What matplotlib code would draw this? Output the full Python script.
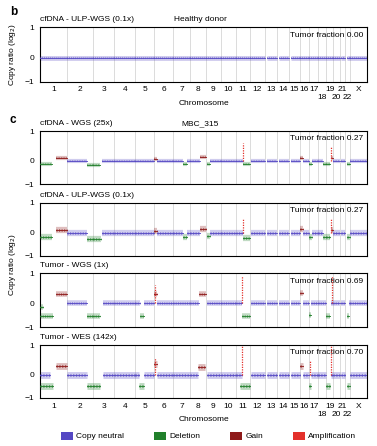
import numpy as np
import matplotlib
matplotlib.use('Agg')
import matplotlib.pyplot as plt
from matplotlib.patches import Patch
from matplotlib.transforms import blended_transform_factory

plt.rcParams['font.family'] = ['Liberation Sans', 'DejaVu Sans']
plt.rcParams['font.size'] = 6

# chromosome layout (Mb)
chroms = ['1', '2', '3', '4', '5', '6', '7', '8', '9', '10', '11', '12', '13', '14',
          '15', '16', '17', '18', '19', '20', '21', '22', 'X']
chrom_len = [249, 243, 198, 191, 181, 171, 159, 146, 141, 136, 135, 134, 115, 107,
             103, 90, 81, 78, 59, 63, 48, 51, 155]
second_row = ['18', '20', '22']

# healthy donor: everything copy neutral, first covered Mb per chromosome
healthy_start = [0, 0, 0, 0, 0, 0, 0, 0, 0, 0, 0, 0, 19, 19, 20, 0, 0, 0, 0, 0, 15, 16, 0]

# segments: (chrom, start Mb, end Mb, log2 ratio, state)
wgs25_segs = [
    ('1', 0, 110, -0.15, 'D'), ('1', 150, 249, 0.08, 'G'),
    ('2', 0, 190, 0.0, 'N'), ('2', 190, 243, -0.17, 'D'),
    ('3', 0, 65, -0.17, 'D'), ('3', 85, 198, 0.0, 'N'),
    ('4', 0, 191, 0.0, 'N'), ('5', 0, 181, 0.0, 'N'),
    ('6', 0, 20, 0.06, 'G'), ('6', 20, 171, 0.0, 'N'),
    ('7', 0, 95, 0.0, 'N'), ('7', 95, 135, -0.15, 'D'), ('7', 135, 159, 0.0, 'N'),
    ('8', 0, 90, 0.0, 'N'), ('8', 90, 146, 0.12, 'G'),
    ('9', 10, 35, -0.15, 'D'), ('9', 40, 141, 0.0, 'N'),
    ('10', 0, 136, 0.0, 'N'),
    ('11', 0, 65, 0.0, 'N'), ('11', 70, 135, -0.15, 'D'),
    ('12', 5, 134, 0.0, 'N'), ('13', 19, 115, 0.0, 'N'), ('14', 19, 107, 0.0, 'N'),
    ('15', 20, 103, 0.0, 'N'),
    ('16', 0, 28, 0.1, 'G'), ('16', 28, 90, 0.0, 'N'),
    ('17', 0, 25, -0.15, 'D'), ('17', 25, 81, 0.0, 'N'),
    ('18', 0, 50, 0.0, 'N'), ('18', 50, 78, -0.15, 'D'),
    ('19', 0, 30, -0.15, 'D'), ('19', 40, 59, 0.08, 'G'),
    ('20', 0, 63, 0.0, 'N'), ('21', 15, 48, 0.0, 'N'),
    ('22', 16, 51, -0.15, 'D'), ('X', 0, 155, 0.0, 'N'),
]
wgs25_amp = [('11', 68, 0.6), ('19', 45, 0.5)]

ulp_segs = [
    ('1', 0, 115, -0.2, 'D'), ('1', 150, 249, 0.1, 'G'),
    ('2', 0, 190, 0.0, 'N'), ('2', 190, 243, -0.25, 'D'),
    ('3', 0, 70, -0.25, 'D'), ('3', 85, 198, 0.0, 'N'),
    ('4', 0, 191, 0.0, 'N'), ('5', 0, 181, 0.0, 'N'),
    ('6', 0, 20, 0.07, 'G'), ('6', 20, 171, 0.0, 'N'),
    ('7', 0, 95, 0.0, 'N'), ('7', 95, 135, -0.18, 'D'), ('7', 135, 159, 0.0, 'N'),
    ('8', 0, 90, 0.0, 'N'), ('8', 90, 146, 0.13, 'G'),
    ('9', 10, 35, -0.15, 'D'), ('9', 40, 141, 0.0, 'N'),
    ('10', 0, 136, 0.0, 'N'),
    ('11', 0, 65, 0.0, 'N'), ('11', 70, 135, -0.22, 'D'),
    ('12', 5, 134, 0.0, 'N'), ('13', 19, 115, 0.0, 'N'), ('14', 19, 107, 0.0, 'N'),
    ('15', 20, 103, 0.0, 'N'),
    ('16', 0, 28, 0.12, 'G'), ('16', 28, 90, 0.0, 'N'),
    ('17', 0, 25, -0.18, 'D'), ('17', 25, 81, 0.0, 'N'),
    ('18', 0, 50, 0.0, 'N'), ('18', 50, 78, -0.18, 'D'),
    ('19', 0, 30, -0.18, 'D'), ('19', 40, 59, 0.1, 'G'),
    ('20', 0, 63, 0.0, 'N'), ('21', 15, 48, 0.0, 'N'),
    ('22', 16, 51, -0.18, 'D'), ('X', 0, 155, 0.0, 'N'),
]
ulp_amp = [('11', 68, 0.45), ('19', 45, 0.45)]

tumor_wgs_segs = [
    ('1', 0, 30, -0.15, 'D'), ('1', 0, 120, -0.55, 'D'), ('1', 150, 249, 0.32, 'G'),
    ('2', 0, 190, 0.0, 'N'), ('2', 190, 243, -0.55, 'D'),
    ('3', 0, 65, -0.55, 'D'), ('3', 90, 198, 0.0, 'N'),
    ('4', 0, 191, 0.0, 'N'),
    ('5', 0, 45, 0.0, 'N'), ('5', 50, 83, -0.55, 'D'), ('5', 83, 181, 0.0, 'N'),
    ('6', 0, 20, 0.3, 'G'), ('6', 20, 171, 0.0, 'N'),
    ('7', 0, 159, 0.0, 'N'),
    ('8', 0, 80, 0.0, 'N'), ('8', 80, 146, 0.3, 'G'),
    ('9', 15, 141, 0.0, 'N'), ('10', 0, 136, 0.0, 'N'),
    ('11', 0, 60, 0.0, 'N'), ('11', 60, 135, -0.55, 'D'),
    ('12', 5, 134, 0.0, 'N'), ('13', 19, 115, 0.0, 'N'), ('14', 19, 107, 0.0, 'N'),
    ('15', 20, 103, 0.0, 'N'),
    ('16', 0, 30, 0.35, 'G'), ('16', 30, 90, 0.0, 'N'),
    ('17', 0, 20, -0.5, 'D'), ('17', 20, 81, 0.0, 'N'),
    ('18', 0, 78, 0.0, 'N'),
    ('19', 0, 35, -0.55, 'D'), ('19', 40, 59, 0.0, 'N'),
    ('20', 0, 63, 0.0, 'N'), ('21', 15, 48, 0.0, 'N'),
    ('22', 16, 22, 0.0, 'N'), ('22', 22, 40, -0.55, 'D'), ('22', 40, 51, 0.0, 'N'),
    ('X', 0, 155, 0.0, 'N'),
]
tumor_wgs_amp = [('6', 6, 0.6), ('11', 62, 0.9), ('19', 48, 0.9)]

wes_segs = [
    ('1', 0, 93, 0.0, 'N'), ('1', 0, 120, -0.5, 'D'), ('1', 148, 249, 0.3, 'G'),
    ('2', 2, 190, 0.0, 'N'), ('2', 190, 243, -0.5, 'D'),
    ('3', 0, 65, -0.5, 'D'), ('3', 93, 198, 0.0, 'N'),
    ('4', 0, 191, 0.0, 'N'),
    ('5', 0, 37, 0.0, 'N'), ('5', 37, 83, -0.5, 'D'), ('5', 83, 181, 0.0, 'N'),
    ('6', 0, 23, 0.35, 'G'), ('6', 23, 171, 0.0, 'N'),
    ('7', 0, 159, 0.0, 'N'),
    ('8', 0, 74, 0.0, 'N'), ('8', 74, 142, 0.25, 'G'),
    ('9', 12, 141, 0.0, 'N'), ('10', 0, 136, 0.0, 'N'),
    ('11', 0, 57, 0.0, 'N'), ('11', 45, 134, -0.5, 'D'),
    ('12', 5, 134, 0.0, 'N'), ('13', 19, 115, 0.0, 'N'), ('14', 19, 107, 0.0, 'N'),
    ('15', 20, 103, 0.0, 'N'),
    ('16', 0, 27, 0.3, 'G'), ('16', 27, 90, 0.0, 'N'),
    ('17', 0, 16, -0.5, 'D'), ('17', 16, 81, 0.0, 'N'),
    ('18', 0, 78, 0.0, 'N'),
    ('19', 0, 35, -0.5, 'D'), ('19', 40, 59, 0.0, 'N'),
    ('20', 0, 63, 0.0, 'N'), ('21', 15, 48, 0.0, 'N'),
    ('22', 16, 25, 0.0, 'N'), ('22', 25, 51, -0.5, 'D'),
    ('X', 0, 155, 0.0, 'N'),
]
wes_amp = [('6', 9, 0.55), ('11', 57, 1.0), ('17', 8, 0.45), ('19', 45, 1.0)]

titles = ['cfDNA - WGS (25x)', 'cfDNA - ULP-WGS (0.1x)', 'Tumor - WGS (1x)', 'Tumor - WES (142x)']
tumor_fraction = ['0.27', '0.27', '0.69', '0.70']

colors = {'N': '#5548c4', 'D': '#21802b', 'G': '#8e1a1a', 'A': '#e3302b'}
legend_names = ['Copy neutral', 'Deletion', 'Gain', 'Amplification']

offs = np.concatenate([[0], np.cumsum(chrom_len)[:-1]])
total = sum(chrom_len)
cidx = {c: i for i, c in enumerate(chroms)}


def fwd(y):
    y = np.asarray(y, dtype=float)
    return np.where(y < 0, y * 0.78, y)


def inv(y):
    y = np.asarray(y, dtype=float)
    return np.where(y < 0, y / 0.78, y)


def setup(ax, title, tf):
    ax.set_yscale('function', functions=(fwd, inv))
    ax.set_xlim(0, total)
    ax.set_ylim(-1, 1)
    ax.set_yticks([-1, 0, 1])
    ax.set_yticklabels(['\u22121', '0', '1'])
    ax.set_xticks([])
    ax.tick_params(length=0, pad=4, labelsize=6)
    for b in offs[1:]:
        ax.axvline(b, color='#d6d6d6', lw=0.6, zorder=0)
    for s in ax.spines.values():
        s.set_linewidth(0.8)
    ax.annotate(title, (0, 1), xycoords='axes fraction', xytext=(0, 3),
                textcoords='offset points', ha='left', va='bottom', fontsize=6)
    ax.text(0.988, 0.85, 'Tumor fraction ' + tf, transform=ax.transAxes,
            ha='right', va='center', fontsize=6)


def draw(ax, segs, amps, spread):
    for c, s, e, v, st in segs:
        x0 = offs[cidx[c]] + s
        x1 = offs[cidx[c]] + e
        # soft band for the scatter of bins, thin core for the segment level
        ax.plot([x0, x1], [v, v], color=colors[st], lw=spread, alpha=0.28,
                solid_capstyle='butt', zorder=2)
        ax.plot([x0, x1], [v, v], color=colors[st], lw=spread * 0.45,
                ls=(0, (0.4, 0.5)), alpha=0.55, zorder=3)
        ax.plot([x0, x1], [v, v], color=colors[st], lw=0.7, alpha=0.9, zorder=3)
    for c, p, top in amps:
        x = offs[cidx[c]] + p
        ax.vlines(x, 0, top, color=colors['A'], lw=0.9, linestyles=(0, (1, 1)), zorder=4)


def chrom_labels(ax, ybase, y2, yname):
    tr = blended_transform_factory(ax.transData, ax.transAxes)
    for i, c in enumerate(chroms):
        y = y2 if c in second_row else ybase
        ax.text(offs[i] + chrom_len[i] / 2, y, c, transform=tr, ha='center',
                va='center', fontsize=6, clip_on=False)
    ax.text(0.5, yname, 'Chromosome', transform=ax.transAxes, ha='center',
            va='center', fontsize=6)


W, H = 377, 446
fig = plt.figure(figsize=(W / 100, H / 100), dpi=100)
left = 40 / W
width = 327 / W


def add_axes(top, bottom):
    return fig.add_axes([left, 1 - bottom / H, width, (bottom - top) / H])


# panel b
axb = add_axes(27.5, 81.7)
setup(axb, 'cfDNA - ULP-WGS (0.1x)', '0.00')
healthy = [(c, healthy_start[i], chrom_len[i], 0.0, 'N') for i, c in enumerate(chroms)]
draw(axb, healthy, [], 3.5)
axb.annotate('Healthy donor', (0.49, 1), xycoords='axes fraction', xytext=(0, 3),
             textcoords='offset points', ha='center', va='bottom', fontsize=6)
chrom_labels(axb, -0.14, -0.30, -0.40)

# panel c
tops = [131, 203, 273, 345]
bottoms = [184, 256, 327, 398]
all_segs = [wgs25_segs, ulp_segs, tumor_wgs_segs, wes_segs]
all_amps = [wgs25_amp, ulp_amp, tumor_wgs_amp, wes_amp]
spreads = [3.0, 4.5, 4.0, 5.0]
axes_c = []
for k in range(4):
    ax = add_axes(tops[k], bottoms[k])
    setup(ax, titles[k], tumor_fraction[k])
    draw(ax, all_segs[k], all_amps[k], spreads[k])
    axes_c.append(ax)
axes_c[0].annotate('MBC_315', (0.49, 1), xycoords='axes fraction', xytext=(0, 3),
                   textcoords='offset points', ha='center', va='bottom', fontsize=6)
chrom_labels(axes_c[3], -0.165, -0.32, -0.415)

fig.text(10 / W, 1 - 12 / H, 'b', fontsize=8.5, fontweight='bold', ha='left', va='center')
fig.text(10 / W, 1 - 120 / H, 'c', fontsize=8.5, fontweight='bold', ha='left', va='center')
fig.text(12 / W, 1 - 55 / H, 'Copy ratio (log$_2$)', rotation=90, ha='center', va='center', fontsize=6)
fig.text(12 / W, 1 - 265 / H, 'Copy ratio (log$_2$)', rotation=90, ha='center', va='center', fontsize=6)

handles = [Patch(facecolor=colors[s], edgecolor='none') for s in ['N', 'D', 'G', 'A']]
fig.legend(handles, legend_names, loc='center', bbox_to_anchor=(0.554, 1 - 436 / H),
           ncol=4, frameon=False, handlelength=1.4, handleheight=1.1,
           columnspacing=3.6, handletextpad=0.4, fontsize=6)

fig.savefig('out.png', dpi=100)
